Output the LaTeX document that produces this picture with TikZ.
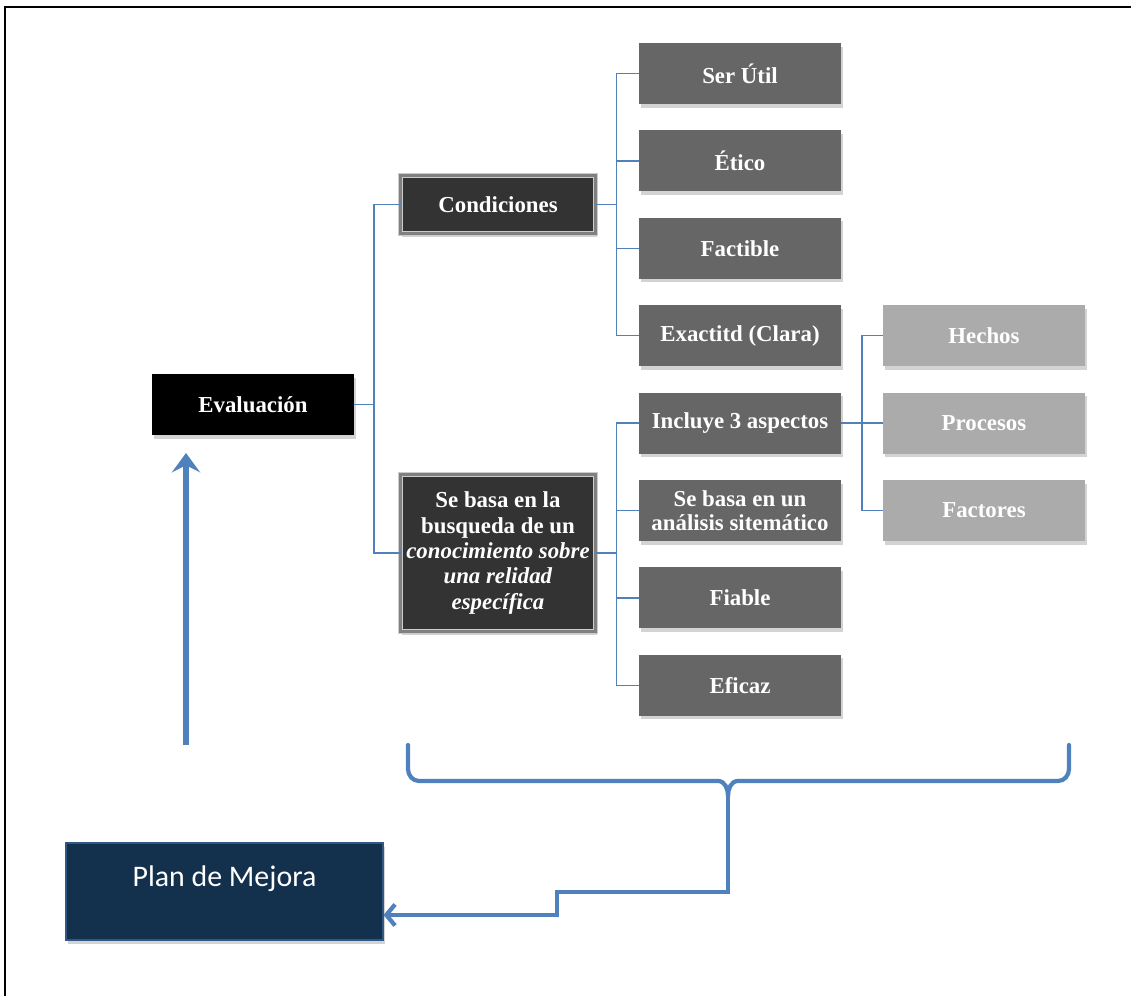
\documentclass[tikz,border=0pt]{standalone}
\usepackage{fontspec}
\setmainfont{Liberation Serif}
\newfontfamily\plansans{Carlito}
\usetikzlibrary{arrows.meta,positioning,shadows}
\definecolor{linkblue}{RGB}{79,129,189}
\definecolor{plannavy}{RGB}{19,48,77}
\tikzset{
  base/.style={font=\fontsize{13}{14.5}\selectfont\bfseries, text=white, align=center, inner sep=2pt, outer sep=0mm},
  softshadow/.style={drop shadow={shadow xshift=1pt, shadow yshift=-2pt, opacity=0.35}},
  topbox/.style={rectangle, fill=black, minimum width=40.4mm, minimum height=12.2mm, softshadow, base},
  keybox/.style={rectangle, fill=black!80, draw=black!20, double=black!50, double distance=1.6pt, line width=0.8pt, minimum width=39mm, minimum height=11.6mm, softshadow, base},
  item/.style={rectangle, fill=black!60, minimum width=40.4mm, minimum height=12.2mm, softshadow, base},
  subitem/.style={rectangle, fill=black!33, minimum width=40.4mm, minimum height=12.2mm, softshadow, base},
  planbox/.style={rectangle, fill=plannavy, draw=linkblue!50!plannavy, line width=0.6pt, minimum width=63.4mm, minimum height=19.4mm, text height=12pt, text depth=18pt, font=\plansans\fontsize{17}{19}\selectfont, text=white, softshadow},
  link/.style={draw=linkblue, line width=0.9pt},
  brace/.style={draw=linkblue, line width=2.4pt, line cap=round},
  bigarrow/.style={-{Stealth[length=11pt, width=16pt, inset=4pt]}, draw=linkblue, line width=3pt},
  backarrow/.style={-{Straight Barb[length=5pt, width=12pt]}, draw=linkblue, line width=2.4pt}
}

\begin{document}
\begin{tikzpicture}[node distance=5.28mm and 8.4mm]
  \useasboundingbox (0,0) rectangle (22.62,-19.92);
  \draw[line width=1.2pt] (0.1,-19.92) -- (0.1,-0.14) -- (22.62,-0.14);

  \node[topbox] (eval) at (5.06,-8.09) {Evaluación};
  \node[keybox] (cond) at (9.96,-4.09) {Condiciones};
  \node[keybox, minimum height=31.4mm] (basa) at (9.96,-11.06) {Se basa en la\\busqueda de un\\\textit{conocimiento sobre}\\\textit{una relidad}\\\textit{específica}};

  \node[item] (ser) at (14.8,-1.47) {Ser Útil};
  \node[item, below=of ser] (etico) {Ético};
  \node[item, below=of etico] (fact) {Factible};
  \node[item, below=of fact] (exact) {Exactitd (Clara)};
  \node[item, below=of exact] (incl) {Incluye 3 aspectos};
  \node[item, below=of incl, font=\fontsize{13}{13.6}\selectfont\bfseries] (anal) {Se basa en un\\análisis sitemático};
  \node[item, below=of anal] (fiable) {Fiable};
  \node[item, below=of fiable] (eficaz) {Eficaz};

  \node[subitem, right=of exact] (hechos) {Hechos};
  \node[subitem, right=of incl] (proc) {Procesos};
  \node[subitem, right=of anal] (factores) {Factores};

  \node[planbox] (plan) at (4.49,-17.83) {Plan de Mejora};

  % tree links
  \draw[link] (eval.east) -- ++(0.4,0) |- (cond.west);
  \draw[link] (eval.east) -- ++(0.4,0) |- (basa.west);
  \foreach \n in {ser,etico,fact,exact}
    \draw[link] (cond.east) -- ++(0.42,0) |- (\n.west);
  \foreach \n in {incl,anal,fiable,eficaz}
    \draw[link] (basa.east) -- ++(0.42,0) |- (\n.west);
  \foreach \n in {hechos,proc,factores}
    \draw[link] (incl.east) -- ++(0.42,0) |- (\n.west);

  % feedback loop
  \coordinate (evalfoot) at (3.72,-14.9);
  \draw[bigarrow, shorten >=0.36cm] (evalfoot) -- (evalfoot |- eval.south);

  \coordinate (bl) at (8.16,-14.9);
  \coordinate (br) at (21.38,-14.9);
  \coordinate (bm) at (14.56,-15.92);
  \coordinate (stem) at (14.56,-17.84);
  \coordinate (knee) at (11.14,-18.3);
  \draw[brace] (bl) -- ++(0,-0.48) to[out=-90,in=180] ++(0.22,-0.24) -- (14.36,-15.62) to[out=0,in=90] (bm)
    to[out=90,in=180] (14.76,-15.62) -- (21.16,-15.62) to[out=0,in=-90] ++(0.22,0.24) -- (br);
  \draw[backarrow, line join=miter] (bm) -- (stem) -| (knee) -- (plan.east |- knee);
\end{tikzpicture}
\end{document}
